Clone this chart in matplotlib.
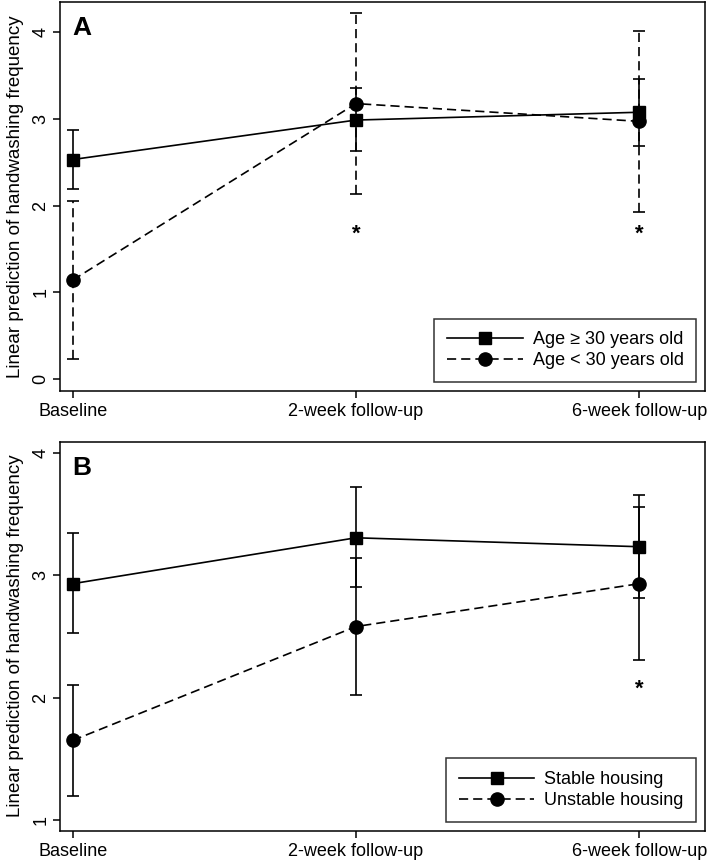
import matplotlib
matplotlib.use("Agg")
import matplotlib.pyplot as plt

plt.rcParams['font.family'] = ['Liberation Sans', 'DejaVu Sans']

timepoints = ["Baseline", "2-week follow-up", "6-week follow-up"]

# Panel A: age groups
age_ge30 = [2.53, 2.985, 3.075]
age_ge30_lo = [2.19, 2.625, 2.69]
age_ge30_hi = [2.87, 3.355, 3.46]
age_lt30 = [1.14, 3.175, 2.97]
age_lt30_lo = [0.23, 2.13, 1.93]
age_lt30_hi = [2.055, 4.215, 4.015]
sig_a = [1, 2]
sig_a_y = 1.67

# Panel B: housing
stable = [2.93, 3.305, 3.232]
stable_lo = [2.525, 2.90, 2.815]
stable_hi = [3.34, 3.72, 3.653]
unstable = [1.65, 2.58, 2.93]
unstable_lo = [1.195, 2.025, 2.305]
unstable_hi = [2.105, 3.14, 3.56]
sig_b = [2]
sig_b_y = 2.07

LW = 1.2
DASH = (0, (5.5, 3))
FS = 13

fig = plt.figure(figsize=(7.09, 8.65), dpi=100)
axA = fig.add_axes([0.0853, 0.548, 0.995 - 0.0853, 0.998 - 0.548])
axB = fig.add_axes([0.0853, 0.0397, 0.995 - 0.0853, 0.4894 - 0.0397])

x = list(range(len(timepoints)))


def draw(ax, y1, lo1, hi1, y2, lo2, hi2, lab1, lab2, dashed_err2):
    e1 = ax.errorbar(x, y1, yerr=[[a - b for a, b in zip(y1, lo1)], [b - a for a, b in zip(y1, hi1)]],
                     color='black', lw=LW, marker='s', ms=9, capsize=4, capthick=LW,
                     elinewidth=LW, zorder=3)
    e2 = ax.errorbar(x, y2, yerr=[[a - b for a, b in zip(y2, lo2)], [b - a for a, b in zip(y2, hi2)]],
                     color='black', lw=LW, ls=DASH, marker='o', ms=9.5, capsize=4, capthick=LW,
                     elinewidth=LW, zorder=3)
    if dashed_err2:
        for bc in e2[2]:
            bc.set_linestyle(DASH)
    leg = ax.legend([e1[0], e2[0]], [lab1, lab2], loc='lower right', fontsize=FS,
                    frameon=True, fancybox=False, edgecolor='black', handlelength=4.2,
                    handletextpad=0.55, borderpad=0.7, labelspacing=0.22,
                    borderaxespad=0.5, numpoints=1)
    leg.get_frame().set_linewidth(1.1)
    ax.set_xticks(x)
    ax.set_xticklabels(timepoints, fontsize=FS)
    ax.set_xlim(-0.043, 2.234)
    ax.set_ylabel("Linear prediction of handwashing frequency", fontsize=13.5, labelpad=6)
    ax.tick_params(axis='both', direction='out', length=5, width=1.1, color='black')
    ax.tick_params(axis='x', pad=4)
    ax.tick_params(axis='y', labelrotation=90, pad=3, labelsize=FS)
    for lbl in ax.get_yticklabels():
        lbl.set_va('center')
    for s in ax.spines.values():
        s.set_linewidth(1.1)


draw(axA, age_ge30, age_ge30_lo, age_ge30_hi, age_lt30, age_lt30_lo, age_lt30_hi,
     "Age \u2265 30 years old", "Age < 30 years old", True)
axA.set_ylim(-0.138, 4.349)
axA.set_yticks([0, 1, 2, 3, 4])
for i in sig_a:
    axA.text(x[i], sig_a_y, "*", ha='center', va='center', fontsize=16, fontweight='bold')
axA.annotate("A", xy=(0, 1), xycoords='axes fraction', xytext=(8.3, -10.5),
             textcoords='offset points', ha='left', va='top', fontsize=19, fontweight='bold')

draw(axB, stable, stable_lo, stable_hi, unstable, unstable_lo, unstable_hi,
     "Stable housing", "Unstable housing", False)
axB.set_ylim(0.913, 4.09)
axB.set_yticks([1, 2, 3, 4])
for i in sig_b:
    axB.text(x[i], sig_b_y, "*", ha='center', va='center', fontsize=16, fontweight='bold')
axB.annotate("B", xy=(0, 1), xycoords='axes fraction', xytext=(8.3, -10.5),
             textcoords='offset points', ha='left', va='top', fontsize=19, fontweight='bold')

fig.savefig("out.png", dpi=100)
